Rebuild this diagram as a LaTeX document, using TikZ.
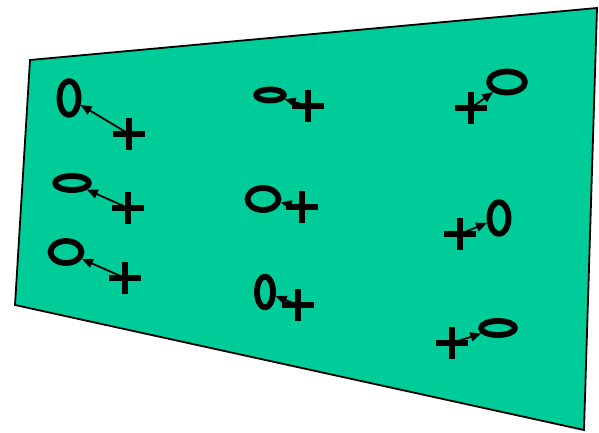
\documentclass[tikz,border=0pt]{standalone}
\usepackage{xcolor}
\usepackage{tikz}
\usetikzlibrary{arrows.meta,shapes.geometric}
\definecolor{sheet}{HTML}{00CC99}
\tikzset{
    every picture/.style={line cap=round,line join=round},
    slab/.style={draw=black,fill=sheet,line width=1.8pt,line join=miter},
    negcharge/.style={draw=black,ellipse,line width=5.8pt,inner sep=0pt},
    poscharge/.style={minimum size=32pt,inner sep=0pt,outer sep=0pt,
      path picture={\draw[line width=6pt,line cap=butt]
        (path picture bounding box.north)--(path picture bounding box.south)
        (path picture bounding box.west)--(path picture bounding box.east);}},
    dipole/.style={-{Triangle[length=11pt,width=9pt]},draw=black,line width=1.8pt}
}
\begin{document}
\begin{tikzpicture}[x=1pt,y=-1pt]
  \useasboundingbox (0,0) rectangle (599,433);
  \draw[slab] (30,60)--(597,8)--(584,430)--(15,305)--cycle;
  % left column
  \node[negcharge,minimum width=19pt,minimum height=34pt] (n1) at (69,98) {};
  \node[poscharge] (p1) at (129,134) {};
  \node[negcharge,minimum width=34pt,minimum height=14pt] (n2) at (72,183) {};
  \node[poscharge] (p2) at (128,208) {};
  \node[negcharge,minimum width=31pt,minimum height=22pt] (n3) at (66,252) {};
  \node[poscharge] (p3) at (125,278) {};
  % middle column
  \node[negcharge,minimum width=28pt,minimum height=11pt] (n4) at (270,95) {};
  \node[poscharge] (p4) at (308,106) {};
  \node[negcharge,minimum width=31pt,minimum height=22pt] (n5) at (263,199) {};
  \node[poscharge] (p5) at (302,207) {};
  \node[negcharge,minimum width=16pt,minimum height=31pt] (n6) at (265,292) {};
  \node[poscharge] (p6) at (298,305) {};
  % right column
  \node[negcharge,minimum width=36pt,minimum height=21pt] (n7) at (507,82) {};
  \node[poscharge] (p7) at (471,108) {};
  \node[negcharge,minimum width=19pt,minimum height=32pt] (n8) at (499,218) {};
  \node[poscharge] (p8) at (460,234) {};
  \node[negcharge,minimum width=34pt,minimum height=14pt] (n9) at (498,328) {};
  \node[poscharge] (p9) at (452,343) {};
  \draw[dipole] (p1.center)--(n1);
  \draw[dipole] (p2.center)--(n2);
  \draw[dipole] (p3.center)--(n3);
  \draw[dipole] (p4.center)--(n4);
  \draw[dipole] (p5.center)--(n5);
  \draw[dipole] (p6.center)--(n6);
  \draw[dipole] (p7.center)--(n7);
  \draw[dipole] (p8.center)--(n8);
  \draw[dipole] (p9.center)--(n9);
\end{tikzpicture}
\end{document}
